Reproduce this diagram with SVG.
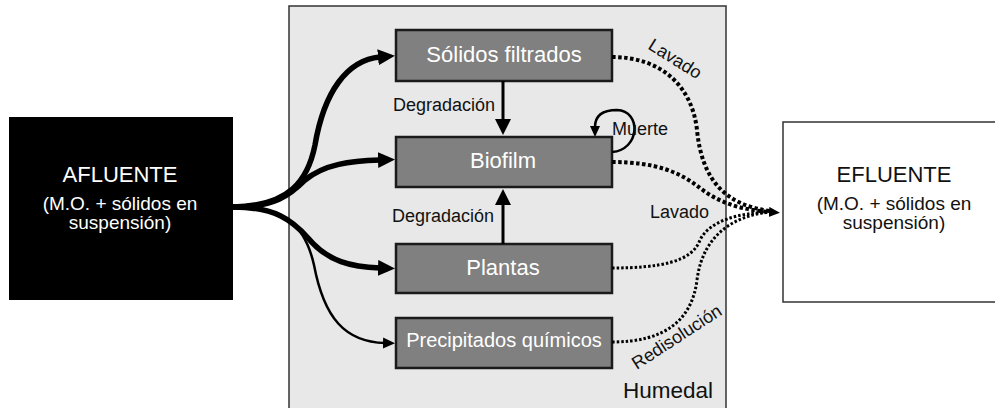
<svg xmlns="http://www.w3.org/2000/svg" width="995" height="408" viewBox="0 0 995 408">
<defs>
<style>
text{font-family:"Liberation Sans",Arial,sans-serif;}
.box{fill:#808080;stroke:#1a1a1a;stroke-width:2.5;}
.bt{fill:#fff;font-size:22px;text-anchor:middle;}
.lbl{fill:#111;font-size:18px;}
.thick{fill:none;stroke:#000;stroke-width:5.5;}
.thin{fill:none;stroke:#000;stroke-width:2.5;}
.deg{fill:none;stroke:#000;stroke-width:3;}
.dot1{fill:none;stroke:#000;stroke-width:4;stroke-dasharray:3.5 2.5;}
.dot2{fill:none;stroke:#000;stroke-width:3;stroke-dasharray:2.5 2;}
</style>
<marker id="ah" markerUnits="userSpaceOnUse" markerWidth="20" markerHeight="18" refX="2" refY="8" orient="auto" viewBox="0 0 20 18">
<path d="M0,0 L17,8 L0,16 z" fill="#000"/>
</marker>
<marker id="ahs" markerUnits="userSpaceOnUse" markerWidth="14" markerHeight="12" refX="2" refY="5.5" orient="auto" viewBox="0 0 14 12">
<path d="M0,0 L12,5.5 L0,11 z" fill="#000"/>
</marker>
<marker id="ahd" markerUnits="userSpaceOnUse" markerWidth="20" markerHeight="18" refX="2" refY="8" orient="auto" viewBox="0 0 20 18">
<path d="M0,0 L16,8 L0,16 z" fill="#000"/>
</marker>
<marker id="ahm" markerUnits="userSpaceOnUse" markerWidth="14" markerHeight="12" refX="1" refY="5" orient="auto" viewBox="0 0 14 12">
<path d="M0,0 L11,5 L0,10 z" fill="#000"/>
</marker>
</defs>
<rect width="995" height="408" fill="#fff"/>

<g id="humedal">
<rect x="289" y="6" width="437" height="410" fill="#e8e8e8" stroke="#333" stroke-width="1.5"/>
<text x="668" y="398" font-size="22.5" fill="#111" text-anchor="middle">Humedal</text>
</g>

<g id="afluente">
<rect x="9" y="117" width="224" height="183" fill="#000"/>
<text x="120" y="182" font-size="22" fill="#fff" text-anchor="middle">AFLUENTE</text>
<text x="120" y="210" font-size="19" fill="#fff" text-anchor="middle">(M.O. + sólidos en</text>
<text x="120" y="229" font-size="19" fill="#fff" text-anchor="middle">suspensión)</text>
</g>

<g id="efluente">
<rect x="783" y="122" width="215" height="180" fill="#fff" stroke="#333" stroke-width="1.5"/>
<text x="894" y="182" font-size="22" fill="#111" text-anchor="middle">EFLUENTE</text>
<text x="894" y="210" font-size="19" fill="#111" text-anchor="middle">(M.O. + sólidos en</text>
<text x="894" y="229" font-size="19" fill="#111" text-anchor="middle">suspensión)</text>
</g>

<g id="solidos">
<rect class="box" x="396" y="30" width="216" height="51"/>
<text class="bt" x="504" y="62">Sólidos filtrados</text>
</g>
<g id="biofilm">
<rect class="box" x="396" y="137" width="216" height="50"/>
<text class="bt" x="503" y="168">Biofilm</text>
</g>
<g id="plantas">
<rect class="box" x="396" y="244" width="216" height="49"/>
<text class="bt" x="503" y="275">Plantas</text>
</g>
<g id="precipitados">
<rect class="box" x="396" y="318" width="216" height="50"/>
<text class="bt" x="504" y="347" style="font-size:20px">Precipitados químicos</text>
</g>

<g id="connectors">
<path class="thick" d="M233,207 C290,206 308,180 315,145 C324,92 347,60 380,57" marker-end="url(#ah)"/>
<path class="thick" d="M233,207 C275,207 290,195 305,180 C325,164 350,161 380,160" marker-end="url(#ah)"/>
<path class="thick" d="M233,207 C275,207 292,220 308,238 C328,262 352,267 380,268" marker-end="url(#ah)"/>
<path class="thin" d="M233,207 C285,207 305,225 314,265 C324,318 345,342 385,343" marker-end="url(#ahs)"/>

<path class="deg" d="M503,81 L503,121" marker-end="url(#ahd)"/>
<text class="lbl" x="393" y="111">Degradación</text>
<path class="deg" d="M503,244 L503,203" marker-end="url(#ahd)"/>
<text class="lbl" x="392" y="222">Degradación</text>

<path fill="none" stroke="#000" stroke-width="2.5" d="M612,152 C640,150 642,111 617,110 C600,110 595,118 595,127" marker-end="url(#ahm)"/>
<text class="lbl" x="612" y="135">Muerte</text>

<path class="dot1" d="M612,57 C660,57 692,85 697,130 C702,180 725,205 770,211"/>
<path class="dot1" d="M612,162 C655,162 680,172 700,188 C722,205 745,210 770,212" marker-end="url(#ahm)"/>
<path class="dot2" d="M612,268 C660,268 692,262 700,240 C710,220 740,213 770,212"/>
<path class="dot2" d="M612,342 C665,342 692,320 697,280 C703,232 738,215 770,212"/>

<text class="lbl" x="672" y="64" text-anchor="middle" transform="rotate(32 672 64)">Lavado</text>
<text class="lbl" x="650" y="218">Lavado</text>
<text class="lbl" x="680" y="342" text-anchor="middle" transform="rotate(-33 680 342)">Redisolución</text>
</g>
</svg>
